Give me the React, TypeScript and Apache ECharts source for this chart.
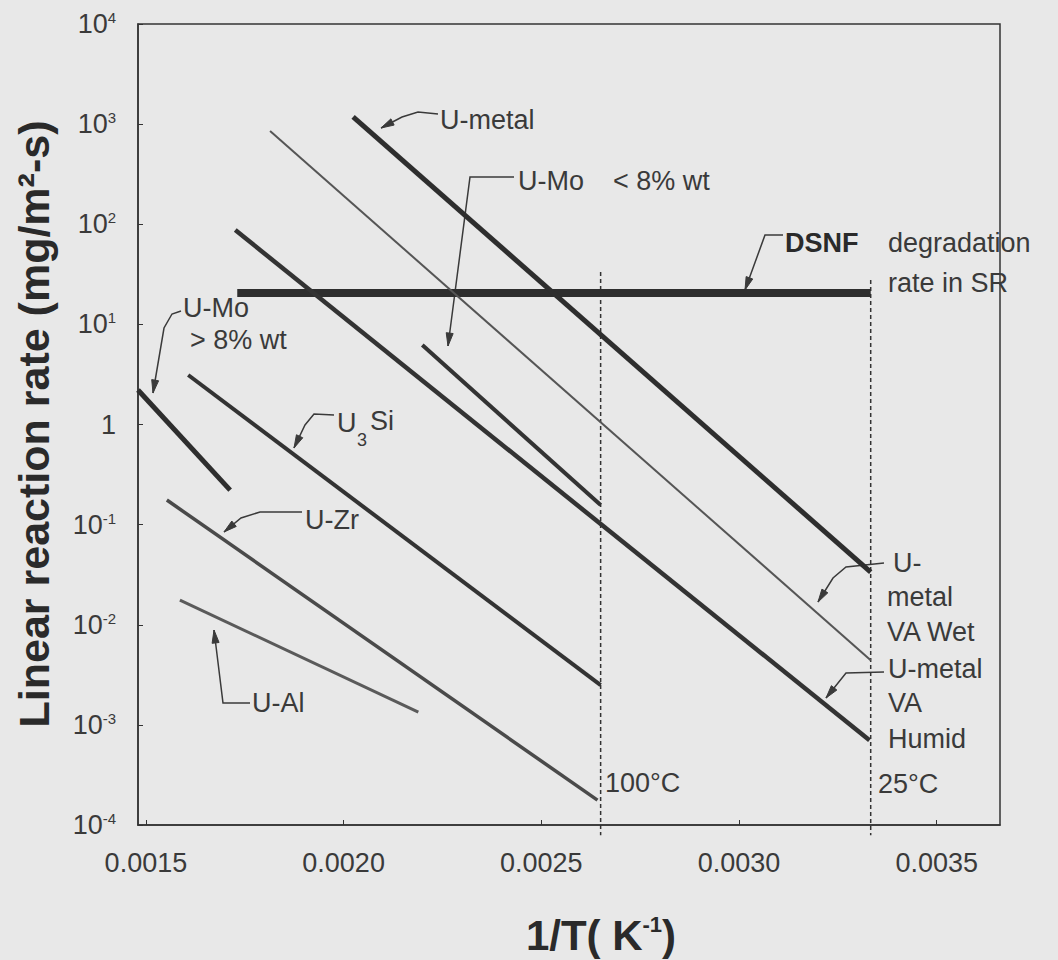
import React, { useEffect, useRef } from 'react';
import * as echarts from 'echarts';

// ---- data (x = 1/T in 1/K, y = linear reaction rate in mg/m^2-s) ----
const xTickValues = [0.0015, 0.002, 0.0025, 0.003, 0.0035];
const yTickExponents = [-4, -3, -2, -1, 0, 1, 2, 3, 4];

const uMetal = [[0.002024, 1180], [0.003333, 0.0336]];
const uMetalVAWet = [[0.001814, 853], [0.003333, 0.00443]];
const uMetalVAHumid = [[0.001726, 87.5], [0.00333, 0.000703]];
const dsnfRate = [[0.001731, 20.6], [0.003333, 20.6]];
const uMoBelow8 = [[0.002199, 6.21], [0.00265, 0.157]];
const u3Si = [[0.001607, 3.12], [0.00265, 0.00249]];
const uMoAbove8 = [[0.00148, 2.21], [0.001713, 0.221]];
const uZr = [[0.001553, 0.176], [0.002642, 0.000177]];
const uAl = [[0.001586, 0.0176], [0.002189, 0.00134]];
const line100C = [[0.00265, 33.3], [0.00265, 0.000079]];
const line25C = [[0.003333, 27.7], [0.003333, 0.000079]];

const X_MIN = 0.00148;
const X_MAX = 0.00366;

const FONT = '"Liberation Sans", Arial, Helvetica, sans-serif';
const TEXT = '#3a3a3a';
const INK = '#333333';
const LEADER = '#3a3a3a';

function txt(text: string, x: number, y: number, extra: any = {}) {
  return {
    type: 'text',
    x,
    y,
    silent: true,
    style: {
      text,
      fill: TEXT,
      fontSize: 27,
      fontFamily: FONT,
      align: 'left',
      verticalAlign: 'middle',
      textAlign: 'left',
      textVerticalAlign: 'middle',
      ...extra,
    },
  };
}

function leader(points: number[][]) {
  const n = points.length;
  const p1 = points[n - 1];
  const p0 = points[n - 2];
  const dx = p1[0] - p0[0];
  const dy = p1[1] - p0[1];
  const len = Math.sqrt(dx * dx + dy * dy) || 1;
  const ux = dx / len;
  const uy = dy / len;
  const L = 13;
  const W = 3.5;
  const bx = p1[0] - ux * L;
  const by = p1[1] - uy * L;
  const tri = [
    [p1[0], p1[1]],
    [bx - uy * W, by + ux * W],
    [bx + uy * W, by - ux * W],
  ];
  return [
    {
      type: 'polyline',
      silent: true,
      shape: { points },
      style: { stroke: LEADER, lineWidth: 1.5, fill: null },
    },
    {
      type: 'polygon',
      silent: true,
      shape: { points: tri },
      style: { fill: LEADER, stroke: LEADER, lineWidth: 1 },
    },
  ];
}

function seg(name: string, data: number[][], width: number, color: string, extra: any = {}) {
  return {
    name,
    type: 'line',
    data,
    showSymbol: false,
    symbol: 'none',
    silent: true,
    lineStyle: { width, color, cap: 'butt', ...extra },
    z: 3,
  };
}

export default function App() {
  const ref = useRef<HTMLDivElement>(null);

  useEffect(() => {
    document.body.style.margin = '0';
    const chart = echarts.init(ref.current as HTMLDivElement, null, { renderer: 'svg' });

    const supFmt = (v: number) => {
      const e = Math.round(Math.log10(v));
      if (e === 0) return '1';
      return '10{s|' + e + '}';
    };

    const option: any = {
      animation: false,
      backgroundColor: '#e8e8e8',
      grid: {
        left: 138,
        right: 58,
        top: 24,
        bottom: 135,
        show: true,
        borderColor: INK,
        borderWidth: 1.5,
        backgroundColor: 'transparent',
        outerBoundsMode: 'none',
        containLabel: false,
      },
      xAxis: {
        type: 'value',
        min: X_MIN,
        max: X_MAX,
        axisLine: { show: true, lineStyle: { color: INK, width: 1.5 } },
        axisTick: { show: true, inside: true, length: 5, customValues: xTickValues, lineStyle: { color: INK } },
        splitLine: { show: false },
        axisLabel: {
          customValues: xTickValues,
          formatter: (v: number) => v.toFixed(4),
          fontSize: 27,
          fontFamily: FONT,
          color: TEXT,
          margin: 24,
        },
      },
      yAxis: {
        type: 'log',
        logBase: 10,
        min: Math.pow(10, yTickExponents[0]),
        max: Math.pow(10, yTickExponents[yTickExponents.length - 1]),
        axisLine: { show: true, lineStyle: { color: INK, width: 1.5 } },
        axisTick: { show: true, inside: true, length: 5, lineStyle: { color: INK } },
        splitLine: { show: false },
        minorTick: { show: false },
        axisLabel: {
          formatter: supFmt,
          fontSize: 27,
          fontFamily: FONT,
          color: TEXT,
          margin: 22,
          rich: {
            s: { fontSize: 15, fontFamily: FONT, color: TEXT, padding: [0, 0, 13, 0] },
          },
        },
      },
      series: [
        seg('DSNF degradation rate in SR', dsnfRate, 8, '#2e2e2e'),
        seg('U-metal', uMetal, 5, '#2e2e2e'),
        seg('U-metal VA Wet', uMetalVAWet, 2, '#555555'),
        seg('U-metal VA Humid', uMetalVAHumid, 4.5, '#333333'),
        seg('U-Mo < 8% wt', uMoBelow8, 4, '#333333'),
        seg('U3Si', u3Si, 4, '#333333'),
        seg('U-Mo > 8% wt', uMoAbove8, 5, '#2e2e2e'),
        seg('U-Zr', uZr, 3.5, '#4a4a4a'),
        seg('U-Al', uAl, 3, '#5a5a5a'),
        { ...seg('100°C', line100C, 1.5, INK, { type: [4, 3] }), clip: false, z: 2 },
        { ...seg('25°C', line25C, 1.5, INK, { type: [4, 3] }), clip: false, z: 2 },
      ],
      graphic: [
        // axis titles
        {
          type: 'text',
          x: 34,
          y: 424,
          rotation: Math.PI / 2,
          silent: true,
          style: {
            text: 'Linear reaction rate (mg/m²-s)',
            fill: '#2a2a2a',
            fontSize: 43,
            fontWeight: 'bold',
            fontFamily: FONT,
            align: 'center',
            verticalAlign: 'middle',
            textAlign: 'center',
            textVerticalAlign: 'middle',
          },
        },
        {
          type: 'text',
          x: 601,
          y: 935,
          silent: true,
          style: {
            text: '{b|1/T( K}{s|-1}{b|)}',
            fill: '#2a2a2a',
            fontFamily: FONT,
            align: 'center',
            verticalAlign: 'middle',
            textAlign: 'center',
            textVerticalAlign: 'middle',
            rich: {
              b: { fontSize: 42, fontWeight: 'bold', fontFamily: FONT, fill: '#2a2a2a' },
              s: { fontSize: 22, fontWeight: 'bold', fontFamily: FONT, fill: '#2a2a2a', padding: [0, 0, 22, 0] },
            },
          },
        },
        // annotations
        txt('U-metal', 440, 120),
        ...leader([[438, 114], [418, 112], [402, 117], [381, 128]]),
        txt('U-Mo', 518, 181),
        txt('< 8% wt', 613, 181),
        ...leader([[514, 177], [470, 177], [448, 346]]),
        txt('DSNF', 785, 243, { fontWeight: 'bold', fill: '#2a2a2a' }),
        txt('degradation', 888, 243),
        txt('rate in SR', 888, 283),
        ...leader([[783, 235], [765, 235], [745, 290]]),
        txt('U-Mo', 183, 308),
        txt('> 8% wt', 190, 340),
        ...leader([[181, 311], [172, 314], [164, 328], [153, 393]]),
        txt('U', 337, 423),
        txt('3', 357, 440, { fontSize: 18 }),
        txt('Si', 370, 421),
        ...leader([[334, 415], [314, 414], [305, 425], [294, 448]]),
        txt('U-Zr', 305, 520),
        ...leader([[302, 512], [260, 512], [241, 518], [224, 532]]),
        txt('U-Al', 252, 703),
        ...leader([[250, 703], [223, 703], [214, 630]]),
        txt('U-', 893, 563),
        txt('metal', 887, 597),
        txt('VA Wet', 887, 632),
        ...leader([[884, 563], [846, 567], [833, 578], [818, 602]]),
        txt('U-metal', 888, 669),
        txt('VA', 888, 703),
        txt('Humid', 888, 739),
        ...leader([[884, 672], [846, 673], [826, 698]]),
        txt('100°C', 605, 783),
        txt('25°C', 878, 784),
      ],
    };

    chart.setOption(option);
    return () => chart.dispose();
  }, []);

  return <div ref={ref} style={{ width: 1058, height: 960 }} />;
}
